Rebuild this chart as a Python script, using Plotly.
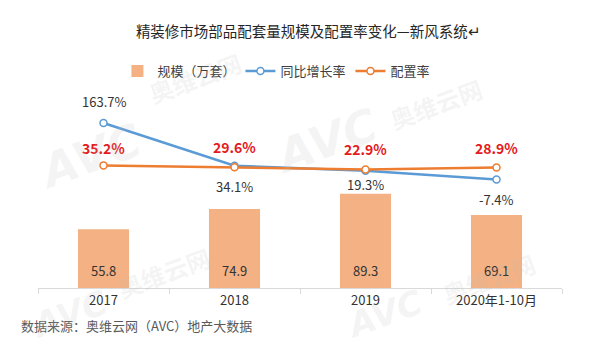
import plotly.graph_objects as go

categories = ["2017", "2018", "2019", "2020年1-10月"]
scale_values = [55.8, 74.9, 89.3, 69.1]
growth_rate = [163.7, 34.1, 19.3, -7.4]
config_rate = [35.2, 29.6, 22.9, 28.9]

FONT = "Noto Sans CJK SC"
BAR_C = "#F4B183"
BLUE = "#5B9BD5"
ORANGE = "#ED7D31"

growth_yshift = [21, -21, -14, -20]
config_yshift = [17, 20, 20, 19]

plot_top, plot_bottom, fig_h, plot_left, plot_w = 100, 288, 359, 38, 524
ph = plot_bottom - plot_top

fig = go.Figure()

fig.add_trace(go.Bar(
    x=categories, y=scale_values, name="规模（万套）",
    marker=dict(color=BAR_C, line=dict(width=0)), width=0.39,
    yaxis="y",
))
fig.add_trace(go.Scatter(
    x=categories, y=growth_rate, name="同比增长率", mode="lines+markers",
    line=dict(color=BLUE, width=2.5),
    marker=dict(symbol="circle", size=7, color="white", line=dict(color=BLUE, width=1.5)),
    yaxis="y2",
))
fig.add_trace(go.Scatter(
    x=categories, y=config_rate, name="配置率", mode="lines+markers",
    line=dict(color=ORANGE, width=2.5),
    marker=dict(symbol="circle", size=7, color="white", line=dict(color=ORANGE, width=1.5)),
    yaxis="y2",
))

annotations = []
for i, v in enumerate(scale_values):
    annotations.append(dict(x=i, y=0, xref="x", yref="y", text=f"{v:.1f}",
                            showarrow=False, yshift=18,
                            font=dict(family=FONT, size=13, color="#333333")))
for i, (v, s) in enumerate(zip(growth_rate, growth_yshift)):
    annotations.append(dict(x=i, y=v, xref="x", yref="y2", text=f"{v:.1f}%",
                            showarrow=False, yshift=s,
                            font=dict(family=FONT, size=13, color="#333333")))
for i, (v, s) in enumerate(zip(config_rate, config_yshift)):
    annotations.append(dict(x=i, y=v, xref="x", yref="y2", text=f"<b>{v:.1f}%</b>",
                            showarrow=False, yshift=s,
                            font=dict(family=FONT, size=14, color="#E41A1C")))

# source note
annotations.append(dict(x=(19 - plot_left) / plot_w, y=(plot_bottom - 325) / ph, xref="paper", yref="paper",
                        text="数据来源：奥维云网（AVC）地产大数据",
                        showarrow=False, xanchor="left", yanchor="middle",
                        font=dict(family=FONT, size=13, color="#595959")))

# faint watermarks
wm = [(0.10, 0.70, 46), (0.55, 0.78, 46), (0.06, -0.14, 34), (0.66, -0.14, 34)]
for x, y, s in wm:
    annotations.append(dict(x=x, y=y, xref="paper", yref="paper", text="<i><b>AVC</b></i>",
                            showarrow=False, textangle=-20, xanchor="center", yanchor="middle",
                            font=dict(family="DejaVu Sans", size=s, color="rgba(190,190,190,0.16)")))
wm2 = [(0.30, 1.12), (0.76, 0.98), (0.24, 0.08), (0.86, 0.05)]
for x, y in wm2:
    annotations.append(dict(x=x, y=y, xref="paper", yref="paper", text="<b>奥维云网</b>",
                            showarrow=False, textangle=-20, xanchor="center", yanchor="middle",
                            font=dict(family=FONT, size=24, color="rgba(190,190,190,0.16)")))

fig.update_layout(
    width=593, height=359,
    margin=dict(l=plot_left, r=593 - plot_left - plot_w, t=plot_top, b=fig_h - plot_bottom),
    paper_bgcolor="white", plot_bgcolor="white",
    title=dict(text="精装修市场部品配套量规模及配置率变化—新风系统↵", x=0.52, xanchor="center",
               y=1 - 32 / fig_h, yanchor="middle", yref="container",
               font=dict(family=FONT, size=14.5, color="#262626")),
    legend=dict(orientation="h", x=0.455, xanchor="center", y=(plot_bottom - 71) / ph, yanchor="middle",
                font=dict(family=FONT, size=13, color="#404040"), bgcolor="rgba(0,0,0,0)",
                traceorder="normal"),
    xaxis=dict(type="category", categoryorder="array", categoryarray=categories, range=[-0.5, 3.5],
               autorange=False, showgrid=False, showline=True, linecolor="#D9D9D9", linewidth=1,
               ticks="outside", tickson="boundaries", ticklen=5, tickcolor="#D9D9D9",
               tickfont=dict(family=FONT, size=13, color="#333333"), fixedrange=True),
    yaxis=dict(range=[0, ph / 1.055], autorange=False, visible=False, showgrid=False, fixedrange=True),
    yaxis2=dict(range=[-(plot_bottom - 177) / 0.33, (177 - plot_top) / 0.33], autorange=False,
                overlaying="y", visible=False, showgrid=False, fixedrange=True),
    annotations=annotations,
    showlegend=True,
)

fig.write_html("out.html", config={"displayModeBar": False},
               post_script="document.body.style.margin='0';document.body.style.padding='0';")
